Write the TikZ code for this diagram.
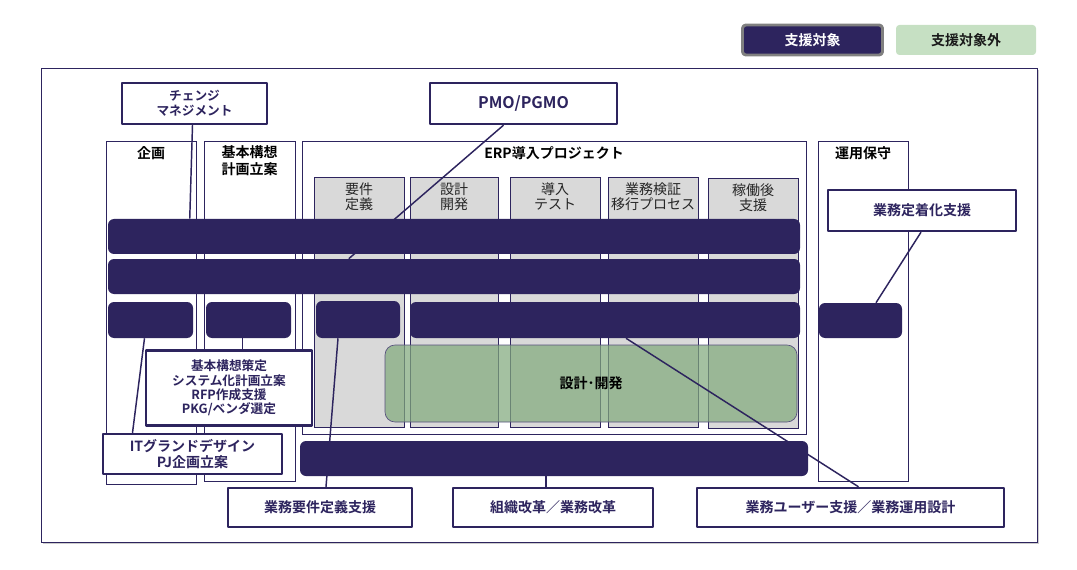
\documentclass[tikz,border=0pt]{standalone}
\usepackage{fontspec}
\setmainfont{Noto Sans CJK JP}[BoldFont={Noto Sans CJK JP Bold}]
\usetikzlibrary{calc,shadows}
\definecolor{navy}{RGB}{45,36,94}
\definecolor{phasegray}{RGB}{217,217,217}
\definecolor{legendgreen}{RGB}{198,224,195}
\definecolor{devgreen}{RGB}{130,170,125}
\pgfdeclarelayer{back}
\pgfdeclarelayer{lines}
\pgfsetlayers{back,lines,main}
\def\px{0.75pt}
\tikzset{
	sz/.style 2 args={minimum width=#1*\px, minimum height=#2*\px},
	colbox/.style={draw=navy, line width=0.6pt, inner sep=0pt},
	coltitle/.style={font=\fontsize{10.5}{12.5}\selectfont\bfseries, text=black, align=center},
	phasebox/.style={draw=navy, line width=0.6pt, fill=phasegray, inner sep=0pt},
	phasetext/.style={font=\fontsize{10.5}{11.6}\selectfont, text=black!85, align=center},
	navybar/.style={fill=navy, rounded corners=4.5pt, inner sep=0pt},
	callbox/.style={draw=navy, line width=1.8pt, fill=white, inner sep=0pt, text=navy, align=center, font=\fontsize{10.5}{12.5}\selectfont\bfseries},
	link/.style={draw=navy, line width=1.1pt}
}
\begin{document}
\begin{tikzpicture}[x=0.75pt, y=-0.75pt, line join=round, line cap=round]
	\useasboundingbox (0,0) rectangle (1077,570);
	
	\begin{pgfonlayer}{back}
		% Khung ngoài
		\draw[navy, line width=0.7pt, fill=white, drop shadow={shadow xshift=1.2pt, shadow yshift=-1.2pt, fill=black, opacity=0.2}] (41,68) rectangle (1037,542);
		% Các cột
		\node[colbox, sz={90}{343}] (kikaku) at (151,312.5) {};
		\node[colbox, sz={91}{340}] (kihon) at (249.5,311) {};
		\node[colbox, sz={504}{293}] (erp) at (554,287.5) {};
		\node[colbox, sz={90}{340}] (unyo) at (863,311) {};
		\node[coltitle] (kikakuT) at (151,153) {企画};
		\node[coltitle] (kihonT) at (249.5,160.5) {基本構想\\計画立案};
		\node[coltitle] (erpT) at (554,153) {ERP導入プロジェクト};
		\node[coltitle] (unyoT) at (863,153) {運用保守};
		% Giai đoạn
		\node[phasebox, sz={90}{250}] (p1) at (359,302) {};
		\node[phasebox, sz={88}{250}] (p2) at (454,302) {};
		\node[phasebox, sz={90}{250}] (p3) at (555,302) {};
		\node[phasebox, sz={90}{250}] (p4) at (653,302) {};
		\node[phasebox, sz={90}{250}] (p5) at (753,303) {};
		\node[phasetext] (p1T) at (359,196.5) {要件\\定義};
		\node[phasetext] (p2T) at (454,196.5) {設計\\開発};
		\node[phasetext] (p3T) at (555,196.5) {導入\\テスト};
		\node[phasetext] (p4T) at (653,196.5) {業務検証\\移行プロセス};
		\node[phasetext] (p5T) at (753,197.5) {稼働後\\支援};
		% Ngoài phạm vi
		\node[draw=navy!80, line width=0.5pt, fill=devgreen, fill opacity=0.72, text opacity=1, rounded corners=7.5pt, sz={412}{77}, font=\fontsize{10.5}{12.5}\selectfont\bfseries, text=black] (dev) at (591,383.5) {設計･開発};
	\end{pgfonlayer}
	
	% Chú thích
	\node[fill=navy, draw=black!50, line width=2.2pt, rounded corners=2.5pt, sz={140}{30}, text=white, font=\fontsize{10.5}{12.5}\selectfont\bfseries] (legin) at (812.5,40) {支援対象};
	\node[fill=legendgreen, rounded corners=2.5pt, sz={140}{30}, text=black!90, font=\fontsize{10.5}{12.5}\selectfont\bfseries] (legout) at (966,40) {支援対象外};
	
	% Thanh hỗ trợ
	\node[navybar, sz={692}{35}] (bar1) at (454,236.5) {};
	\node[navybar, sz={692}{35}] (bar2) at (454,276.5) {};
	\node[navybar, sz={85}{36}] (r1) at (150.5,320) {};
	\node[navybar, sz={85}{36}] (r2) at (248.5,320) {};
	\node[navybar, sz={84}{37}] (r3) at (358,319.5) {};
	\node[navybar, sz={390}{36}] (r4) at (605,320) {};
	\node[navybar, sz={83}{35}] (r5) at (860.5,320.5) {};
	\node[navybar, sz={508}{35}] (bbar) at (554,458.5) {};
	
	% Hộp chú giải
	\node[callbox, sz={145}{41}, font=\fontsize{9.5}{11.6}\selectfont\bfseries] (cm) at (194.5,103.5) {チェンジ\\マネジメント};
	\node[callbox, sz={187}{41}, font=\fontsize{12}{14}\selectfont\bfseries] (pmo) at (523.5,103.5) {PMO/PGMO};
	\node[callbox, sz={188}{41}] (teichaku) at (922,210.5) {業務定着化支援};
	\node[callbox, sz={166}{75}, font=\fontsize{9.5}{10.7}\selectfont\bfseries] (kihonsaku) at (229,388) {基本構想策定\\システム化計画立案\\RFP作成支援\\PKG/ベンダ選定};
	\node[callbox, sz={179}{40}] (itgd) at (192.5,454) {ITグランドデザイン\\PJ企画立案};
	\node[callbox, sz={184}{39}] (youken) at (320,507.5) {業務要件定義支援};
	\node[callbox, sz={200}{39}] (soshiki) at (553,507.5) {組織改革／業務改革};
	\node[callbox, sz={307}{39}] (user) at (850.5,507.5) {業務ユーザー支援／業務運用設計};
	
	% Đường nối
	\coordinate (kh) at ($(r2.south)+(-6,0)$);
	\coordinate (ss) at ($(bbar.south)+(-8,0)$);
	\begin{pgfonlayer}{lines}
		\draw[link] ($(cm.south)+(-2,0)$) -- ($(bar1.north west)+(82,0)$);
		\draw[link] ($(pmo.south)+(-20,0)$) -- ($(bar2.north west)+(241,0)$);
		\draw[link] ($(r1.south)+(-6,0)$) -- ($(itgd.north)+(-60,0)$);
		\draw[link] (kh) -- (kh |- kihonsaku.north);
		\draw[link] ($(r3.south)+(-20,0)$) -- ($(youken.north)+(6,0)$);
		\draw[link] (ss) -- (ss |- soshiki.north);
		\draw[link] ($(r4.south)+(21,0)$) -- ($(user.north)+(8,0)$);
		\draw[link] ($(teichaku.south)+(-1,0)$) -- ($(r5.north)+(15.5,0)$);
	\end{pgfonlayer}
\end{tikzpicture}
\end{document}
